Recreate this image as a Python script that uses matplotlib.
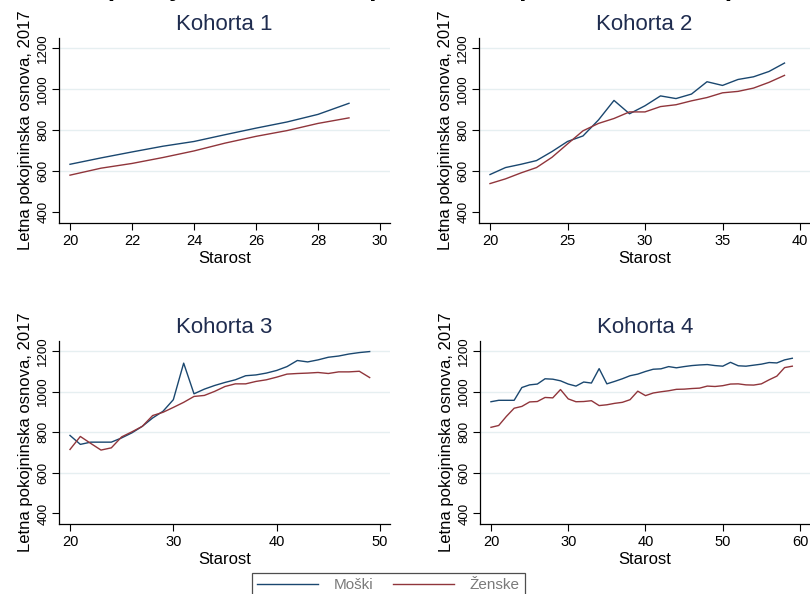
import matplotlib.pyplot as plt
import numpy as np

plt.rcParams["font.family"] = ["Liberation Sans", "DejaVu Sans"]

# Annual pension base by age, per cohort (men / women)
ages_1 = np.arange(20, 30)
men_1 = [634, 665, 694, 722, 745, 778, 810, 840, 877, 931]
women_1 = [581, 615, 638, 667, 699, 737, 770, 798, 833, 860]

ages_2 = np.arange(20, 40)
men_2 = [584, 618, 634, 652, 696, 745, 772, 850, 945, 880,
         919, 967, 954, 976, 1036, 1018, 1047, 1060, 1086, 1127]
women_2 = [540, 563, 592, 618, 668, 733, 797, 833, 857, 889,
           889, 915, 924, 943, 959, 982, 989, 1005, 1033, 1067]

ages_3 = np.arange(20, 50)
men_3 = [784, 740, 751, 751, 751, 772, 797, 829, 870, 903,
         960, 1140, 989, 1012, 1030, 1045, 1058, 1078, 1082, 1091,
         1104, 1123, 1153, 1146, 1156, 1169, 1175, 1185, 1192, 1197]
women_3 = [715, 779, 745, 712, 723, 777, 802, 829, 882, 898,
           922, 947, 976, 981, 1001, 1025, 1038, 1038, 1050, 1058,
           1071, 1086, 1089, 1091, 1094, 1089, 1097, 1097, 1100, 1069]

ages_4 = np.arange(20, 60)
men_4 = [950, 957, 957, 957, 1020, 1033, 1037, 1063, 1061, 1053,
         1037, 1027, 1047, 1042, 1113, 1038, 1050, 1063, 1078, 1086,
         1099, 1110, 1112, 1123, 1117, 1123, 1128, 1131, 1133, 1128,
         1125, 1144, 1127, 1125, 1130, 1135, 1143, 1141, 1156, 1164]
women_4 = [824, 833, 878, 918, 927, 949, 951, 971, 969, 1010,
           964, 950, 951, 955, 931, 935, 942, 947, 960, 1002,
           980, 993, 999, 1004, 1011, 1012, 1015, 1017, 1027, 1025,
           1029, 1037, 1038, 1033, 1032, 1038, 1058, 1076, 1118, 1125]

panels = [
    ("Kohorta 1", ages_1, men_1, women_1, (20, 30), np.arange(20, 31, 2)),
    ("Kohorta 2", ages_2, men_2, women_2, (20, 40), np.arange(20, 41, 5)),
    ("Kohorta 3", ages_3, men_3, women_3, (20, 50), np.arange(20, 51, 10)),
    ("Kohorta 4", ages_4, men_4, women_4, (20, 60), np.arange(20, 61, 10)),
]
y_ticks = [400, 600, 800, 1000, 1200]

navy = "#1a476f"
maroon = "#90353b"
grid_col = "#e6eff1"
title_col = "#1f2c4f"

W, H = 810, 594
fig = plt.figure(figsize=(W / 100, H / 100), dpi=100)

# axes rectangles in pixels: left, top, right, bottom
rects = [(59, 38, 390, 223), (479, 38, 810, 223),
         (59, 341, 390, 524), (480, 341, 810, 524)]

for (title, ages, men, women, (x0, x1), xt), (l, t, r, b) in zip(panels, rects):
    ax = fig.add_axes([l / W, 1 - b / H, (r - l) / W, (b - t) / H])
    for y in y_ticks[1:]:
        ax.axhline(y, color=grid_col, lw=1.0, zorder=0)
    ax.plot(ages, men, color=navy, lw=1.0, label="Moški")
    ax.plot(ages, women, color=maroon, lw=1.0, label="Ženske")

    span = x1 - x0
    ax.set_xlim(x0 - span * 11 / 310, x1 + span * 10 / 310)
    ax.set_ylim(348, 1249)
    ax.set_xticks(xt)
    ax.set_yticks(y_ticks)
    ax.tick_params(axis="x", labelsize=10.5, length=5, width=0.8, pad=3)
    ax.tick_params(axis="y", labelsize=9.5, length=5, width=0.8, pad=2)
    for lab in ax.get_yticklabels():
        lab.set_rotation(90)
        lab.set_va("center")
    for side in ("top", "right"):
        ax.spines[side].set_visible(False)
    for side in ("left", "bottom"):
        ax.spines[side].set_linewidth(0.9)
    ax.set_title(title, fontsize=16, color=title_col, pad=6)
    ax.set_xlabel("Starost", fontsize=12, labelpad=2)
    ax.set_ylabel("Letna pokojninska osnova, 2017", fontsize=12, labelpad=3)

# overall heading, sitting mostly above the top edge
fig.text(0.5, 1.006, "Letna pokojninska osnova po starosti, po kohortah in spolu",
         ha="center", va="baseline", fontsize=19, fontweight="bold")

handles, labels = ax.get_legend_handles_labels()
leg = fig.legend(handles, labels, loc="upper center", ncol=2,
                 bbox_to_anchor=(388.5 / W, 1 - 573 / H), borderaxespad=0,
                 frameon=True, fancybox=False, fontsize=11, handlelength=4.0,
                 columnspacing=1.3, borderpad=0.35, handletextpad=1.0)
leg.get_frame().set_edgecolor("#222222")
leg.get_frame().set_linewidth(0.9)
for txt in leg.get_texts():
    txt.set_color("#7a7a7a")

fig.savefig("out.png", dpi=100)
